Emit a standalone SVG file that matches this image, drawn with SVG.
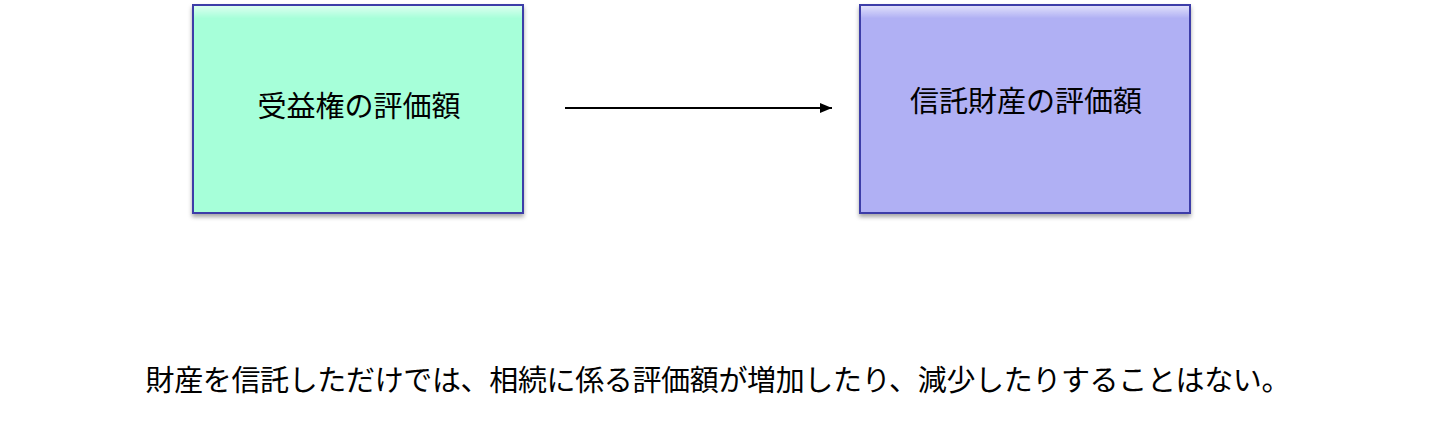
<svg xmlns="http://www.w3.org/2000/svg" width="1454" height="430" viewBox="0 0 1454 430">
<style>
.box{stroke:#3c3ca8;stroke-width:2;filter:url(#sh)}
.t{font-family:"Noto Sans CJK JP","Noto Sans",sans-serif;font-size:29px;fill:#000;text-anchor:middle}
</style>
<defs>
<filter id="sh" x="-10%" y="-10%" width="120%" height="130%">
<feDropShadow dx="0" dy="3" stdDeviation="2" flood-color="#000" flood-opacity="0.35"/>
</filter>
<linearGradient id="gloss" x1="0" y1="0" x2="0" y2="1">
<stop offset="0" stop-color="#fff" stop-opacity="0.6"/>
<stop offset="0.06" stop-color="#fff" stop-opacity="0"/>
</linearGradient>
<marker id="ah" markerWidth="12" markerHeight="10" refX="12" refY="5" orient="auto" markerUnits="userSpaceOnUse">
<path d="M0,0 L12,5 L0,10 z" fill="#000"/>
</marker>
</defs>
<g id="node1">
<rect class="box" x="193" y="5" width="330" height="208" fill="#a6ffd9"/>
<rect x="194" y="6" width="328" height="206" fill="url(#gloss)"/>
<text class="t" x="359" y="117">受益権の評価額</text>
</g>
<g id="node2">
<rect class="box" x="860" y="5" width="330" height="208" fill="#b0b0f4"/>
<rect x="861" y="6" width="328" height="206" fill="url(#gloss)"/>
<text class="t" x="1026" y="112">信託財産の評価額</text>
</g>
<g id="connectors">
<line x1="565" y1="108" x2="832" y2="108" stroke="#000" stroke-width="2" marker-end="url(#ah)"/>
</g>
<text class="t" x="718" y="391" textLength="1145" lengthAdjust="spacing">財産を信託しただけでは、相続に係る評価額が増加したり、減少したりすることはない。</text>
</svg>
